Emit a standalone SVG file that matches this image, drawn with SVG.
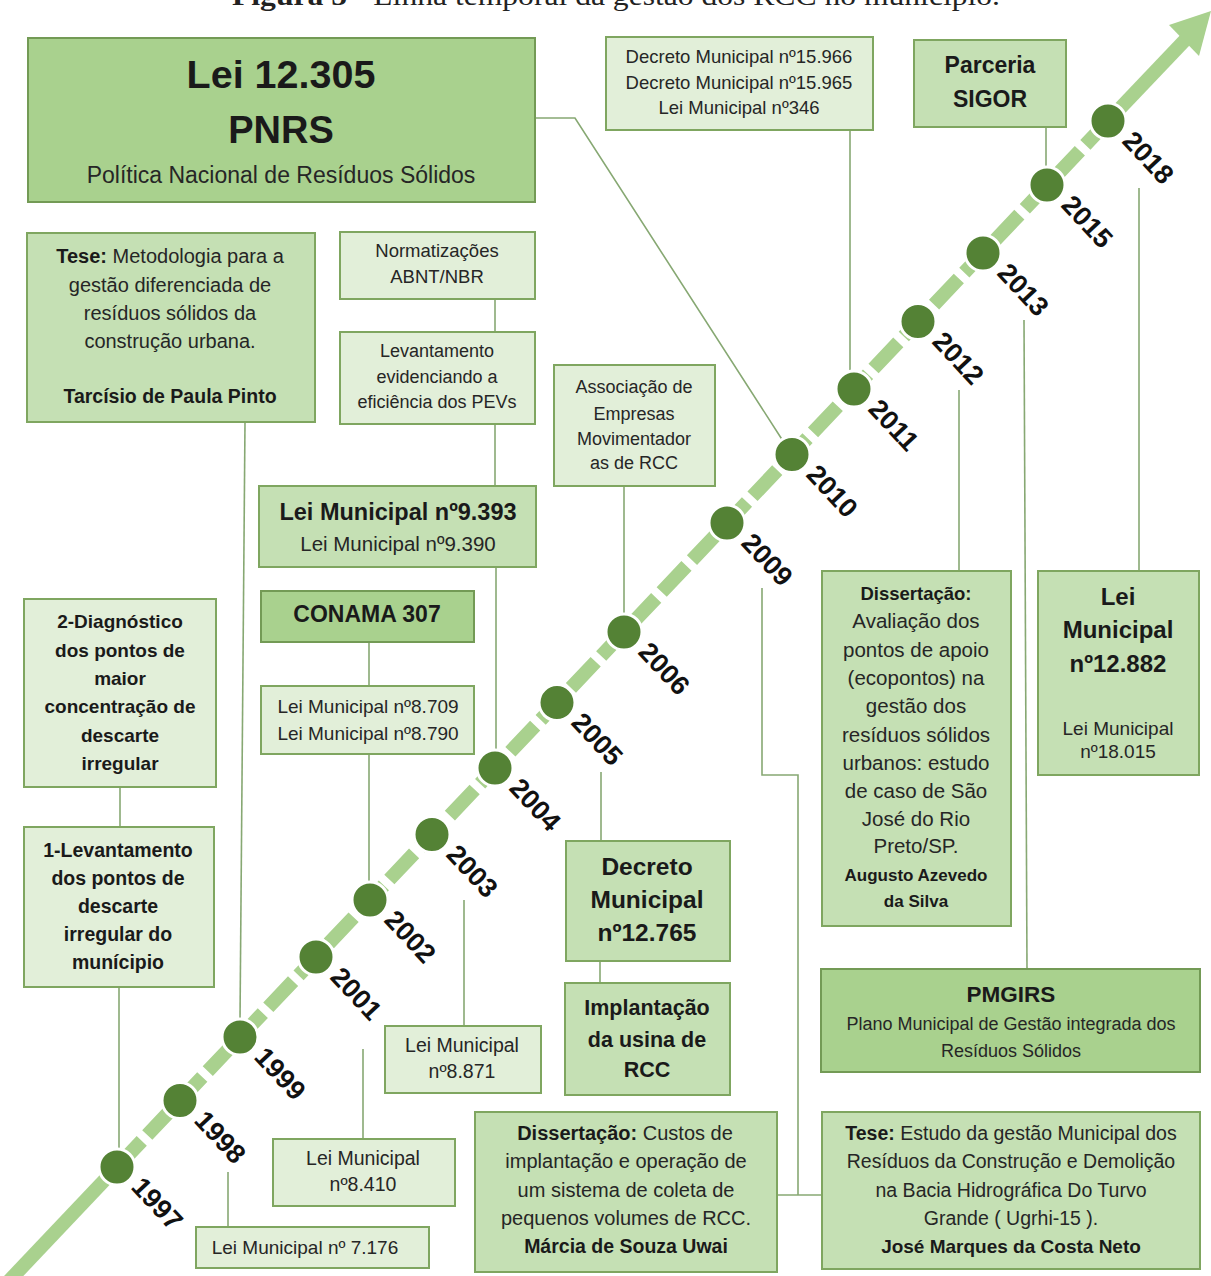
<svg xmlns="http://www.w3.org/2000/svg" width="1211" height="1276" viewBox="0 0 1211 1276">
<style>
.t{font-family:"Liberation Sans",Arial,sans-serif;fill:#262626;text-anchor:middle}
.b{font-weight:bold;fill:#1a1a1a}
.lt{fill:#e2efd9;stroke:#7fa660;stroke-width:2}
.md{fill:#c5e0b4;stroke:#7fa660;stroke-width:2}
.dk{fill:#a9d18e;stroke:#739a55;stroke-width:2}
.c{fill:none;stroke:#87a873;stroke-width:1.6}
.yr{font-family:"Liberation Sans",Arial,sans-serif;font-weight:bold;font-size:27px;fill:#111}
.dot{fill:#548235;stroke:#fff;stroke-width:3}
.ln{fill:none;stroke:#a9d18e;stroke-width:14}
</style>
<rect width="1211" height="1276" fill="#fff"/>
<text x="616" y="5" font-family="'Liberation Serif','Times New Roman',serif" font-size="28" text-anchor="middle" fill="#222" textLength="768" lengthAdjust="spacingAndGlyphs"><tspan font-weight="bold">Figura 5</tspan> - Linha temporal da gestão dos RCC no município.</text>

<g id="timeline">
<path class="ln" d="M8,1282 L117,1167"/>
<path class="ln" d="M117,1167 L1108,121" stroke-dasharray="36 8"/>
<path class="ln" d="M1108,121 L1187,38"/>
<polygon points="1211,11 1169,25 1199,56" fill="#a9d18e"/>
</g>

<g id="connectors">
<path class="c" d="M535,118 H575 L783,441"/>
<path class="c" d="M245,422 L240,1020"/>
<path class="c" d="M495,299 V332"/>
<path class="c" d="M495,424 V486"/>
<path class="c" d="M496,567 V751"/>
<path class="c" d="M369,642 V686"/>
<path class="c" d="M369,754 V883"/>
<path class="c" d="M850,131 V371"/>
<path class="c" d="M1046,127 V168"/>
<path class="c" d="M624,486 V615"/>
<path class="c" d="M120,787 V827"/>
<path class="c" d="M119,987 V1150"/>
<path class="c" d="M464,900 V1026"/>
<path class="c" d="M363,1049 V1139"/>
<path class="c" d="M228,1172 V1227"/>
<path class="c" d="M601,772 V841"/>
<path class="c" d="M600,961 V983"/>
<path class="c" d="M762,588 V775 H798 V1195"/>
<path class="c" d="M777,1195 H822"/>
<path class="c" d="M959,390 V571"/>
<path class="c" d="M1024,320 L1027,969"/>
<path class="c" d="M1139,188 V571"/>
</g>

<g id="years">
<g id="y1997"><circle class="dot" cx="117" cy="1167" r="18"/><text class="yr" transform="translate(130,1188) rotate(47)">1997</text></g>
<g id="y1998"><circle class="dot" cx="180" cy="1100.5" r="18"/><text class="yr" transform="translate(193,1121.5) rotate(47)">1998</text></g>
<g id="y1999"><circle class="dot" cx="240" cy="1037" r="18"/><text class="yr" transform="translate(253,1058) rotate(47)">1999</text></g>
<g id="y2001"><circle class="dot" cx="316" cy="957" r="18"/><text class="yr" transform="translate(329,978) rotate(47)">2001</text></g>
<g id="y2002"><circle class="dot" cx="370" cy="900" r="18"/><text class="yr" transform="translate(383,921) rotate(47)">2002</text></g>
<g id="y2003"><circle class="dot" cx="432" cy="834.5" r="18"/><text class="yr" transform="translate(445,855.5) rotate(47)">2003</text></g>
<g id="y2004"><circle class="dot" cx="495" cy="768" r="18"/><text class="yr" transform="translate(508,789) rotate(47)">2004</text></g>
<g id="y2005"><circle class="dot" cx="557" cy="702.6" r="18"/><text class="yr" transform="translate(570,723.6) rotate(47)">2005</text></g>
<g id="y2006"><circle class="dot" cx="624" cy="632" r="18"/><text class="yr" transform="translate(637,653) rotate(47)">2006</text></g>
<g id="y2009"><circle class="dot" cx="727" cy="523" r="18"/><text class="yr" transform="translate(740,544) rotate(47)">2009</text></g>
<g id="y2010"><circle class="dot" cx="792" cy="454.5" r="18"/><text class="yr" transform="translate(805,475.5) rotate(47)">2010</text></g>
<g id="y2011"><circle class="dot" cx="854" cy="389" r="18"/><text class="yr" transform="translate(867,410) rotate(47)">2011</text></g>
<g id="y2012"><circle class="dot" cx="918" cy="321.5" r="18"/><text class="yr" transform="translate(931,342.5) rotate(47)">2012</text></g>
<g id="y2013"><circle class="dot" cx="983" cy="253" r="18"/><text class="yr" transform="translate(996,274) rotate(47)">2013</text></g>
<g id="y2015"><circle class="dot" cx="1047" cy="185" r="18"/><text class="yr" transform="translate(1060,206) rotate(47)">2015</text></g>
<g id="y2018"><circle class="dot" cx="1108" cy="121" r="18"/><text class="yr" transform="translate(1121,142) rotate(47)">2018</text></g>
</g>

<g id="n-pnrs">
<rect class="dk" x="28" y="38" width="507" height="164"/>
<text class="t b" x="281" y="88" font-size="39.5">Lei 12.305</text>
<text class="t b" x="281" y="143" font-size="38">PNRS</text>
<text class="t" x="281" y="183" font-size="23">Política Nacional de Resíduos Sólidos</text>
</g>

<g id="n-tese1">
<rect class="md" x="27" y="233" width="288" height="189"/>
<text class="t" font-size="20" x="170" y="263"><tspan class="b">Tese:</tspan> Metodologia para a</text>
<text class="t" font-size="20" x="170" y="292">gestão diferenciada de</text>
<text class="t" font-size="20" x="170" y="320">resíduos sólidos da</text>
<text class="t" font-size="20" x="170" y="348">construção urbana.</text>
<text class="t b" font-size="19.5" x="170" y="403">Tarcísio de Paula Pinto</text>
</g>

<g id="n-norm">
<rect class="lt" x="340" y="232" width="195" height="67"/>
<text class="t" font-size="18.5" x="437" y="257">Normatizações</text>
<text class="t" font-size="18.5" x="437" y="283">ABNT/NBR</text>
</g>

<g id="n-lev">
<rect class="lt" x="340" y="332" width="195" height="92"/>
<text class="t" font-size="18" x="437" y="357">Levantamento</text>
<text class="t" font-size="18" x="437" y="383">evidenciando a</text>
<text class="t" font-size="18" x="437" y="408">eficiência dos PEVs</text>
</g>

<g id="n-l9393">
<rect class="md" x="259" y="486" width="277" height="81"/>
<text class="t b" font-size="23.5" x="398" y="520">Lei Municipal nº9.393</text>
<text class="t" font-size="20.5" x="398" y="551">Lei Municipal nº9.390</text>
</g>

<g id="n-conama">
<rect class="dk" x="261" y="591" width="213" height="51"/>
<text class="t b" font-size="23" x="367" y="622">CONAMA 307</text>
</g>

<g id="n-l8709">
<rect class="lt" x="261" y="686" width="213" height="68"/>
<text class="t" font-size="19" x="368" y="713">Lei Municipal nº8.709</text>
<text class="t" font-size="19" x="368" y="740">Lei Municipal nº8.790</text>
</g>

<g id="n-dec15966">
<rect class="lt" x="606" y="37" width="267" height="93"/>
<text class="t" font-size="18.5" x="739" y="63">Decreto Municipal nº15.966</text>
<text class="t" font-size="18.5" x="739" y="89">Decreto Municipal nº15.965</text>
<text class="t" font-size="18.5" x="739" y="114">Lei Municipal nº346</text>
</g>

<g id="n-sigor">
<rect class="md" x="914" y="40" width="152" height="87"/>
<text class="t b" font-size="23" x="990" y="73">Parceria</text>
<text class="t b" font-size="23" x="990" y="107">SIGOR</text>
</g>

<g id="n-assoc">
<rect class="lt" x="554" y="365" width="161" height="121"/>
<text class="t" font-size="18" x="634" y="393">Associação de</text>
<text class="t" font-size="18" x="634" y="420">Empresas</text>
<text class="t" font-size="18" x="634" y="445">Movimentador</text>
<text class="t" font-size="18" x="634" y="469">as de RCC</text>
</g>

<g id="n-diag2">
<rect class="lt" x="24" y="599" width="192" height="188"/>
<text class="t b" font-size="19" x="120" y="628">2-Diagnóstico</text>
<text class="t b" font-size="19" x="120" y="657">dos pontos de</text>
<text class="t b" font-size="19" x="120" y="685">maior</text>
<text class="t b" font-size="19" x="120" y="713">concentração de</text>
<text class="t b" font-size="19" x="120" y="742">descarte</text>
<text class="t b" font-size="19" x="120" y="770">irregular</text>
</g>

<g id="n-lev1">
<rect class="lt" x="24" y="827" width="190" height="160"/>
<text class="t b" font-size="19.5" x="118" y="857">1-Levantamento</text>
<text class="t b" font-size="19.5" x="118" y="885">dos pontos de</text>
<text class="t b" font-size="19.5" x="118" y="913">descarte</text>
<text class="t b" font-size="19.5" x="118" y="941">irregular do</text>
<text class="t b" font-size="19.5" x="118" y="969">munícipio</text>
</g>

<g id="n-l8871">
<rect class="lt" x="385" y="1026" width="156" height="67"/>
<text class="t" font-size="19.5" x="462" y="1052">Lei Municipal</text>
<text class="t" font-size="19.5" x="462" y="1078">nº8.871</text>
</g>

<g id="n-l8410">
<rect class="lt" x="273" y="1139" width="182" height="67"/>
<text class="t" font-size="19.5" x="363" y="1165">Lei Municipal</text>
<text class="t" font-size="19.5" x="363" y="1191">nº8.410</text>
</g>

<g id="n-l7176">
<rect class="lt" x="196" y="1227" width="233" height="41"/>
<text class="t" font-size="19" x="305" y="1254">Lei Municipal nº 7.176</text>
</g>

<g id="n-dec12765">
<rect class="md" x="566" y="841" width="164" height="120"/>
<text class="t b" font-size="24.5" x="647" y="875">Decreto</text>
<text class="t b" font-size="24.5" x="647" y="908">Municipal</text>
<text class="t b" font-size="24.5" x="647" y="941">nº12.765</text>
</g>

<g id="n-impl">
<rect class="md" x="565" y="983" width="165" height="112"/>
<text class="t b" font-size="21.5" x="647" y="1015">Implantação</text>
<text class="t b" font-size="21.5" x="647" y="1047">da usina de</text>
<text class="t b" font-size="21.5" x="647" y="1077">RCC</text>
</g>

<g id="n-diss2">
<rect class="md" x="475" y="1112" width="302" height="160"/>
<text class="t" font-size="20" x="625" y="1140"><tspan class="b">Dissertação:</tspan>  Custos de</text>
<text class="t" font-size="20" x="626" y="1168">implantação e operação de</text>
<text class="t" font-size="20" x="626" y="1197">um sistema de coleta de</text>
<text class="t" font-size="20" x="626" y="1225">pequenos volumes de RCC.</text>
<text class="t b" font-size="19.5" x="626" y="1253">Márcia de Souza Uwai</text>
</g>

<g id="n-tese2">
<rect class="md" x="822" y="1112" width="378" height="157"/>
<text class="t" font-size="19.5" x="1011" y="1140"><tspan class="b">Tese:</tspan> Estudo da gestão Municipal dos</text>
<text class="t" font-size="19.5" x="1011" y="1168">Resíduos da Construção e Demolição</text>
<text class="t" font-size="19.5" x="1011" y="1197">na Bacia Hidrográfica Do Turvo</text>
<text class="t" font-size="19.5" x="1011" y="1225">Grande ( Ugrhi-15 ).</text>
<text class="t b" font-size="19" x="1011" y="1253">José Marques da Costa Neto</text>
</g>

<g id="n-diss1">
<rect class="md" x="822" y="571" width="189" height="355"/>
<text class="t b" font-size="18.5" x="916" y="600">Dissertação:</text>
<text class="t" font-size="20.5" x="916" y="628">Avaliação dos</text>
<text class="t" font-size="20.5" x="916" y="657">pontos de apoio</text>
<text class="t" font-size="20.5" x="916" y="685">(ecopontos) na</text>
<text class="t" font-size="20.5" x="916" y="713">gestão dos</text>
<text class="t" font-size="20.5" x="916" y="742">resíduos sólidos</text>
<text class="t" font-size="20.5" x="916" y="770">urbanos: estudo</text>
<text class="t" font-size="20.5" x="916" y="798">de caso de São</text>
<text class="t" font-size="20.5" x="916" y="826">José do Rio</text>
<text class="t" font-size="20.5" x="916" y="853">Preto/SP.</text>
<text class="t b" font-size="17" x="916" y="881">Augusto Azevedo</text>
<text class="t b" font-size="17" x="916" y="907">da Silva</text>
</g>

<g id="n-l12882">
<rect class="md" x="1038" y="571" width="161" height="204"/>
<text class="t b" font-size="24" x="1118" y="605">Lei</text>
<text class="t b" font-size="24" x="1118" y="638">Municipal</text>
<text class="t b" font-size="24" x="1118" y="672">nº12.882</text>
<text class="t" font-size="19" x="1118" y="735">Lei Municipal</text>
<text class="t" font-size="19" x="1118" y="758">nº18.015</text>
</g>

<g id="n-pmgirs">
<rect class="dk" x="821" y="969" width="379" height="103"/>
<text class="t b" font-size="22.5" x="1011" y="1002">PMGIRS</text>
<text class="t" font-size="18" x="1011" y="1030">Plano Municipal de Gestão integrada dos</text>
<text class="t" font-size="18" x="1011" y="1057">Resíduos Sólidos</text>
</g>
</svg>
